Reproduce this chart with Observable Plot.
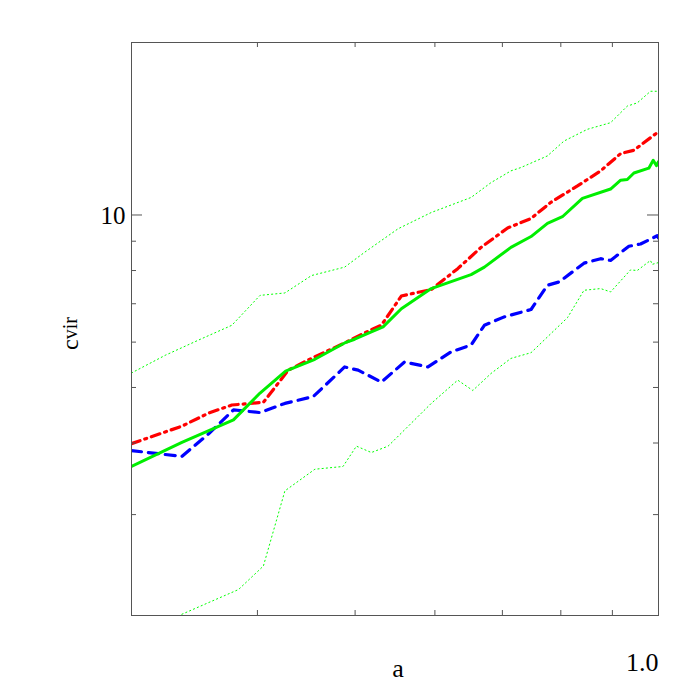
<!DOCTYPE html>
<html>
<head>
<meta charset="utf-8">
<script src="https://cdn.jsdelivr.net/npm/d3@7"></script>
<script src="https://cdn.jsdelivr.net/npm/@observablehq/plot@0.6"></script>
<style>
  html, body { margin: 0; padding: 0; background: #fff; }
  #chart { width: 700px; height: 700px; }
</style>
</head>
<body>
<div id="chart"></div>
<script>
// ---- data ----
const aSolid = [0.300, 0.3366, 0.3787, 0.4024, 0.4266, 0.4561, 0.4882, 0.4995, 0.5189, 0.5330, 0.5557, 0.5950, 0.6517, 0.6718, 0.7138, 0.7474, 0.7759, 0.8029, 0.8404, 0.8963, 0.9172, 0.9312, 0.9454, 0.9781, 0.9880, 0.9955, 1.0];
const cSolid = [3.64, 4.01, 4.39, 4.89, 5.34, 5.60, 5.98, 6.07, 6.25, 6.38, 6.86, 7.44, 7.87, 8.11, 8.78, 9.17, 9.67, 9.93, 10.69, 11.10, 11.50, 11.53, 11.84, 12.07, 12.46, 12.19, 12.39];

const aDashDot = [0.300, 0.3366, 0.3578, 0.3773, 0.4055, 0.4292, 0.4544, 0.4882, 0.5189, 0.5309, 0.5557, 0.5794, 0.5950, 0.6321, 0.6667, 0.7084, 0.7474, 0.7818, 0.8310, 0.8762, 0.9172, 0.9454, 0.9970, 1.0];
const cDashDot = [3.99, 4.28, 4.51, 4.66, 4.71, 5.36, 5.64, 5.98, 6.31, 6.42, 7.22, 7.34, 7.41, 8.06, 8.78, 9.49, 9.86, 10.52, 11.24, 11.94, 12.80, 12.97, 13.92, 13.83];

const aDashed = [0.300, 0.3366, 0.3578, 0.3787, 0.4024, 0.4259, 0.4544, 0.4882, 0.5035, 0.5309, 0.5599, 0.5906, 0.6226, 0.6517, 0.6718, 0.7030, 0.7474, 0.7759, 0.7968, 0.8435, 0.8762, 0.8963, 0.9346, 0.9598, 0.9970, 1.0];
const cDashed = [3.88, 3.79, 4.15, 4.57, 4.52, 4.69, 4.82, 5.43, 5.36, 5.11, 5.54, 5.43, 5.77, 5.93, 6.42, 6.64, 6.84, 7.54, 7.64, 8.24, 8.39, 8.33, 8.82, 8.90, 9.20, 9.12];

const aUpper = [0.300, 0.324, 0.3497, 0.3773, 0.4024, 0.4259, 0.4526, 0.4882, 0.5111, 0.5515, 0.5950, 0.6517, 0.6821, 0.7138, 0.7302, 0.7759, 0.8058, 0.8500, 0.8963, 0.9312, 0.9526, 0.9819, 1.0];
const cUpper = [5.30, 5.69, 6.05, 6.42, 7.24, 7.31, 7.84, 8.11, 8.61, 9.46, 10.10, 10.73, 11.39, 11.94, 12.10, 12.68, 13.46, 14.11, 14.49, 15.49, 15.69, 16.44, 16.44];

const aLower = [0.3366, 0.3831, 0.4055, 0.4259, 0.4561, 0.4864, 0.5015, 0.5189, 0.5392, 0.5950, 0.6321, 0.6543, 0.6821, 0.7138, 0.7474, 0.8123, 0.8435, 0.8762, 0.8963, 0.9382, 0.9526, 0.9819, 0.9857, 1.0];
const cLower = [2.01, 2.22, 2.44, 3.30, 3.60, 3.64, 3.95, 3.85, 3.95, 4.69, 5.15, 4.94, 5.29, 5.62, 5.75, 6.62, 7.39, 7.44, 7.34, 8.02, 8.00, 8.33, 8.20, 8.26];

const xMinorTicks = [0.4, 0.5, 0.6, 0.7, 0.8, 0.9];
const xMajorTicks = [1.0];
const xTickLabels = ["1.0"];
const yMinorTicks = [3, 4, 5, 6, 7, 8, 9];
const yMajorTicks = [10];
const yTickLabels = ["10"];
const xDomain = [0.3, 1.0];
const yDomain = [2, 20];
const xTitle = "a";
const yTitleMain = "c";
const yTitleSub = "vir";

const zip = (as, cs) => as.map((a, i) => ({a, c: cs[i]}));
const solid = zip(aSolid, cSolid);
const dashDot = zip(aDashDot, cDashDot);
const dashed = zip(aDashed, cDashed);
const upper = zip(aUpper, cUpper);
const lower = zip(aLower, cLower);

const axisColor = "#555";
const font = "'Liberation Serif', 'Times New Roman', serif";
const frameW = 700 - 131 - 42;
const frameH = 700 - 42 - 85;
const majorLen = 11, minorLen = 5;

const chart = Plot.plot({
  width: 700,
  height: 700,
  marginLeft: 131,
  marginRight: 42,
  marginTop: 42,
  marginBottom: 85,
  style: {fontFamily: font, background: "#fff", color: "#000"},
  x: {type: "log", domain: xDomain, axis: null},
  y: {type: "log", domain: yDomain, axis: null},
  marks: [
    // data lines
    Plot.line(upper, {x: "a", y: "c", stroke: "#00ff00", strokeWidth: 1, strokeDasharray: "1.2,3", clip: true}),
    Plot.line(lower, {x: "a", y: "c", stroke: "#00ff00", strokeWidth: 1, strokeDasharray: "1.2,3", clip: true}),
    Plot.line(dashed, {x: "a", y: "c", stroke: "#0000ff", strokeWidth: 3.2, strokeDasharray: "10,7", clip: true}),
    Plot.line(dashDot, {x: "a", y: "c", stroke: "#ff0000", strokeWidth: 3.2, strokeDasharray: "9,5,2,5", clip: true}),
    Plot.line(solid, {x: "a", y: "c", stroke: "#00ee00", strokeWidth: 3, clip: true}),
    // inside ticks: left/right
    Plot.tickY(yMajorTicks, {y: d => d, insetRight: frameW - majorLen, stroke: axisColor}),
    Plot.tickY(yMajorTicks, {y: d => d, insetLeft: frameW - majorLen, stroke: axisColor}),
    Plot.tickY(yMinorTicks, {y: d => d, insetRight: frameW - minorLen, stroke: axisColor}),
    Plot.tickY(yMinorTicks, {y: d => d, insetLeft: frameW - minorLen, stroke: axisColor}),
    // inside ticks: bottom/top
    Plot.tickX(xMinorTicks, {x: d => d, insetTop: frameH - minorLen, stroke: axisColor}),
    Plot.tickX(xMinorTicks, {x: d => d, insetBottom: frameH - minorLen, stroke: axisColor}),
    Plot.tickX(xMajorTicks, {x: d => d, insetTop: frameH - majorLen, stroke: axisColor}),
    Plot.tickX(xMajorTicks, {x: d => d, insetBottom: frameH - majorLen, stroke: axisColor}),
    Plot.frame({stroke: axisColor, strokeWidth: 1}),
    // tick labels
    Plot.text(yMajorTicks, {y: d => d, text: (d, i) => yTickLabels[i], frameAnchor: "left", dx: -6, dy: 1, textAnchor: "end", fontSize: 25, fontFamily: font, fill: "#000"}),
    Plot.text(xMajorTicks, {x: d => d, text: (d, i) => xTickLabels[i], frameAnchor: "bottom", dy: 55, dx: 0, textAnchor: "end", fontSize: 26, fontFamily: font, fill: "#000"}),
    // x title
    Plot.text([xTitle], {frameAnchor: "bottom", dx: 3, dy: 61, text: d => d, fontSize: 26, fontFamily: font, fill: "#000"})
  ]
});
document.getElementById("chart").appendChild(chart);

// y title with subscript, rotated (group wrapper carries the rotation)
const svg = d3.select(chart.tagName.toLowerCase() === "svg" ? chart : chart.querySelector("svg"));
const g = svg.append("g")
  .attr("transform", "translate(77.5,350) rotate(-90)")
  .style("transform", "translate(77.5px,350px) rotate(-90deg)");
const yt = g.append("text")
  .attr("x", 0).attr("y", 0)
  .attr("text-anchor", "start")
  .attr("font-family", font)
  .attr("fill", "#000");
yt.append("tspan").attr("font-size", 24).text(yTitleMain);
yt.append("tspan").attr("font-size", 20).attr("dy", -1).text(yTitleSub);
</script>
</body>
</html>
